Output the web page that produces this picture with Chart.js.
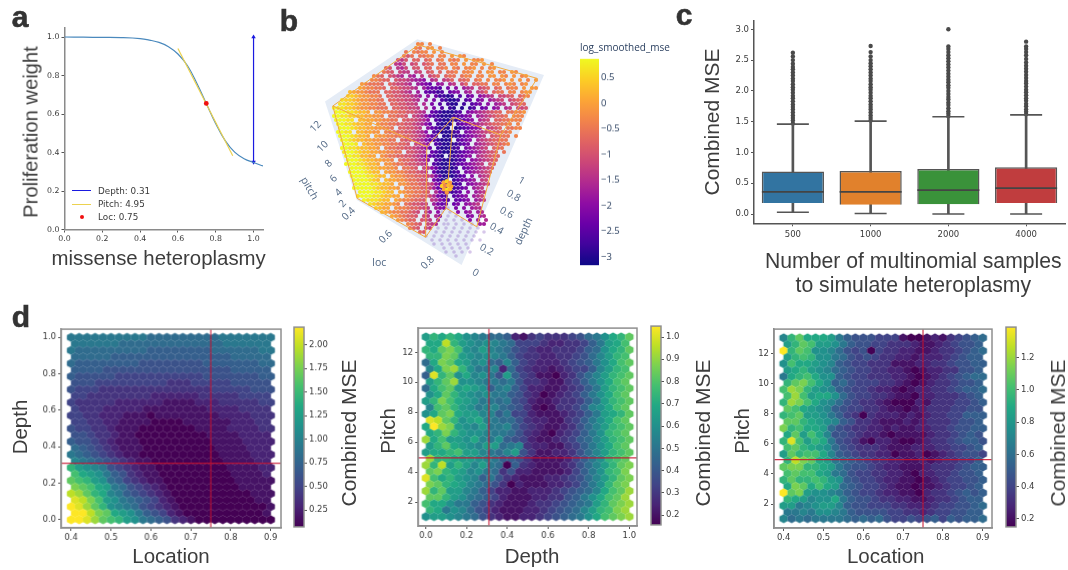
<!DOCTYPE html>
<html>
<head>
<meta charset="utf-8">
<script src="https://cdn.jsdelivr.net/npm/chart.js@4"></script>
<style>
  html, body { margin: 0; background: #fff; }
  #page { position: relative; width: 1068px; height: 570px; overflow: hidden; filter: blur(0.35px); }
  #page canvas { position: absolute; }
  .lbl { position: absolute; white-space: nowrap; transform-origin: center; }
</style>
</head>
<body>
<div id="page"></div>
<script>
// panel a
const heteroplasmy = [0, 0.1, 0.2, 0.3, 0.4, 0.45, 0.5, 0.55, 0.6, 0.65, 0.7, 0.75, 0.8, 0.85, 0.9, 0.95, 1, 1.05];
const prolifWeight = [1, 0.999, 0.998, 0.997, 0.992, 0.984, 0.972, 0.95, 0.912, 0.852, 0.76, 0.655, 0.55, 0.462, 0.402, 0.368, 0.348, 0.33];
const tangentX = [0.6, 0.89];
const tangentY = [0.94, 0.383];
const arrowX = [1, 1];
const arrowY = [0.35, 1];
const locX = [0.75];
const locY = [0.655];

// panel b, projected cloud: one string per row of the picture, one char per colour level, blank = no point, p = faded point
const cloudRows = [
"                       ee e",
"                      ed ef e",
"                    d edee f e",
"                   dbd ddee ee f fe",
"                  a9b cc cd de ede f eef",
"                 98a ab bcd dd ee f ee f e",
"               cb 98a bb cc dde ed eef e ef",
"              dcb a99 9a bc c dde eef e ff ee fe",
"            edc ba98 87 9 abc cdd dee ee ff fe f ef",
"           eedcc baa98776 89 9ac ccd de e eef f f e f",
"         fedddc cbaa98 7654 67 89 ac ccdd ee efe ef",
"        gfeeddc ccbaa98 75443 5 6 789 abc cd dee f ff",
"      hgffeddd ccbba98 7 43323 456 78 9ac cdd ee eff",
"     iihgffeed ccbbaa987 6 42212 3 45 6789 aabc cde",
"    jiihgffeedd ccbbaa98 7 5 32112 34 56 789a abcc",
"   jjiihgffeedd ccbbaa9 8 5 3 211 2 345 6 789 abcc",
"  kjjiihgffeeddd ccbbaa9 8 5 3 21 1 23 45 67 89 aab",
"  kkkjjihhg ffeeddccbba98 43211123 56789abcc ddeef",
"  kkjjiihhggffe ddccb a98643211123456 789abccd eee",
"  kkkjj hhggffeedd cbba986 3211123456 89a ccddeee",
"   kkjjihhgg feeddccbba9864 2111 3456789abccdde e",
"   kkkjihhggffeed ccbba9 643211 1234567 9abc ddee",
"   kkjj hhggff eddccbba986 3211123 56789abccdde",
"   kkkjihhg gffeeddccba98643 11123456789 bccdd e",
"    kkjihhggffeedd cbba986432111 3456 89abccdd",
"    kkkj hggffeeddccb a986 321112345 789abccde",
"    kkjjihhggf eddccbba9864 211123 56789a ccd",
"    jkkjihhggffeedd bba98 43211123456789abc d",
"     kkjjhhgg feddccbba9864321 123456 89abcc",
"     kkkjihhggffe dccba986 32111234 6789abc",
"     kkkjjihhg ffeddcbba98 3211123456789 bc",
"      kkkjihhggffe ddcb a96421112 456789ab",
"      kkkkjihh gffeedccba9 4211123 56789ab",
"      kkkkjjihh gffeddccba853111234 6 89a",
"       kkkkjih hggffeddcba 5311 234567 9a",
"       kkkkjjihhg ffeddcbb96421123 56789a",
"       kkkkkjihhggf eeddcba7422 2345 789",
"        kkkkjjihh gfeeddcb 8532234 6 789",
"        jkkkjjihhgg feddcba8533 3456 78a",
"         kjjjihh gfeedccb 98643 4456 789",
"           jihhggfe dcbba9 7544 45 6789",
"            ihgg feedccba9 765p 5 6 788",
"              hgfeeddcba 97 6p p 6 67 78",
"                gfedccb a9 86 p p  56 78",
"                  fedcc ba9 7 p p p 6 7 8",
"                    edcb a98 pp p p p 77",
"                     dcb a9 p p p p p p",
"                       cb  p p p p p p p",
"                         p p p p p p p",
"                          p p p p p p p",
"                           p p p p p",
"                             p p p p",
"                              p p p p",
"                                p"
];
const blobX = [29.4, 30.2, 31, 29, 29.8, 30.6, 31.3, 29.5, 30.3, 31, 30.2];
const blobY = [34.6, 34.3, 34.7, 35.5, 35.4, 35.3, 35.6, 36.3, 36.4, 36.3, 37.1];
const blobLevels = [16, 18, 15, 18, 14, 17, 16, 16, 19, 17, 15];
const wallX = [-0.25, 22.8, 54.5, 33.9, 7.7, -0.25];
const wallY = [14.4, -1.2, 7.75, 55.25, 39, 14.4];
const wireX = [1.7, 23.1, 52.8, 43.7, 31.8, 25.2, 1.7, 7.8, 24.9, 25.2, null, 31.8, 30, 37.7, 43.7, null, 24.9, 30];
const wireY = [15.5, 0.25, 8.6, 22.75, 18.3, 25.7, 15.5, 38.6, 48.3, 25.7, null, 18.3, 41, 45.7, 22.75, null, 48.3, 41];

// panel c
const sampleCounts = ['500', '1000', '2000', '4000'];
const boxQ1 = [0.18, 0.15, 0.16, 0.18];
const boxMedian = [0.36, 0.36, 0.39, 0.42];
const boxQ3 = [0.69, 0.7, 0.73, 0.76];
const whiskerLow = [0.03, 0.01, 0, 0];
const whiskerHigh = [1.46, 1.51, 1.58, 1.61];
const boxColors = ['#3274a1', '#e1812c', '#3a923a', '#c03d3e'];
const fliers500 = [1.47, 1.52, 1.56, 1.6, 1.65, 1.7, 1.74, 1.78, 1.83, 1.88, 1.92, 1.97, 2.02, 2.06, 2.11, 2.16, 2.2, 2.25, 2.3, 2.35, 2.39, 2.44, 2.5, 2.56, 2.62];
const fliers1000 = [1.52, 1.56, 1.6, 1.65, 1.7, 1.74, 1.78, 1.83, 1.88, 1.92, 1.97, 2.02, 2.06, 2.11, 2.16, 2.2, 2.25, 2.3, 2.35, 2.4, 2.45, 2.5, 2.56, 2.63, 2.73];
const fliers2000 = [1.59, 1.63, 1.67, 1.72, 1.77, 1.81, 1.86, 1.9, 1.95, 2, 2.05, 2.09, 2.14, 2.18, 2.23, 2.28, 2.33, 2.38, 2.43, 2.48, 2.53, 2.58, 2.63, 2.68, 2.72, 3];
const fliers4000 = [1.62, 1.66, 1.7, 1.75, 1.79, 1.84, 1.88, 1.93, 1.98, 2.02, 2.07, 2.12, 2.16, 2.21, 2.26, 2.31, 2.36, 2.41, 2.46, 2.52, 2.58, 2.63, 2.68, 2.72, 2.8];

// panel d, hexbins: rows top to bottom, odd rows are the offset lattice; one char per colour level (0-9 a-k)
const bestLoc = 0.75;
const bestDepth = 0.31;
const bestPitch = 4.95;
const locDepthRows = [
"88888888887777777778888888","8888887777777777777888888","87777777776666666677777788","7777766666666666666677777",
"76666666655555555666666677","6666555555555555555566666","65555544444444444555555566","5554444444443334444455555",
"54443333333333333344444555","4433333333222222333334444","43333322222211112223333344","4333222221111111122223333",
"44332221110111111112222333","4433221111000011111122233","54433211100000001111222233","5543321100000000011112222",
"65543211100000000011112222","7654321110000000001111222","87654321100000000001111222","9876543211000000000111122",
"dba98543211000000000111122","ecba865321100000000011112","fedba764321100000000011111","gfecb875432100000000011111",
"ihfdc986543210000000000111","jigeba8765421000000000011","kjhfda987543210000000000011","kkigfcba86542100000000001",
"kkjhfedba87653210000000000"
];
const depthPitchRows = [
"bdcdca9877621343334578acdf","ccidba9a98744432233468bce","dcfgea9b98754322333467acdf","ddgfba9a98643322334579bde",
"7cgfcb9a76964322234568acef","9cghda8892743221234469bde","6jdfac9a85b64311023579bdef","bdfhaa988785332113468acef",
"7cefbcba68964221123468bdef","acfdba9a8865320123468acef","bdgecba887854211233468bdef","9efdba899765310133469acef",
"acfgcbb996844211123468bcdf","jifdabc98775322113468acef","ckhgba9b88964321123579bdef","cdgdbaa988753210234 68adef",
"hcebbac98a654211234679bdef","bdfcba9bb789322113468acef","bccdebb9879b5311223579bdef","hddcbba98665311112468adef",
"hdibdb9b87063211123579bdfg","fgdcb9a87352211112468adeg","jecdba96853211122345 79bdfg","gfdcb9875302111223468adfg",
"hdfbb98642211222345679cefh","ffdba876421112233568acefh","ecca88653211123345678bdfgh","dc8a975421112234567 9bdegh",
"abba98753211223456 78acefgh"
].map(r => r.replace(' ', ''));
const locPitchRows = [
"9dfcccb8655544410012134567","bdfebba865544333211234556","kdfeaa97545043322112334567","bdedaa8754543322122234566",
"aeccba96544333111223345566","bcdba97654433221012233556","8cdecaa65443332210123 4567","dfgeca6754443321012334556",
"ehgdba96544322101223345667","ehebcca754433211022333456","dhgeca975433210002133344565","fecba96544332110123334455",
"defbba86430322212123344666","ffdcba9653321112123334556","gdeccb75433221211223345566","cfbec9554322101111233 4565",
"djebdc85431022100123345665","efdcba7543332111222334456","bfdeec96543322011201234554","digfcb8765433221121233446",
"fggddcb8655432211123334566","efeecb8754433221022334556","dfddedba654432211012344556","cgfcecb765443211011234456",
"kfgbaa98654432211023345656","dcb9aac865543322112334566","bb89abb9655444332223445567","8898aa9865555443323445566",
"97878888767675445456465667"
].map(r => r.replace(' ', ''));

// colour tables
const viridis = ['#440154', '#482475', '#414487', '#355f8d', '#2a788e', '#21918c', '#22a884', '#44bf70', '#7ad151', '#bddf26', '#fde725'];
const plasma = ['#0d0887', '#41049d', '#6a00a8', '#8f0da4', '#b12a90', '#cc4778', '#e16462', '#f2844b', '#fca636', '#fcce25', '#f0f921'];

const tickFont = '"DejaVu Sans", sans-serif';
const tickColor = '#3a3a3a';
const page = document.getElementById('page');

function hexToRgb(h) {
  return [1, 3, 5].map(i => parseInt(h.slice(i, i + 2), 16));
}

function colorAt(table, t) {
  t = Math.min(1, Math.max(0, t));
  const p = t * (table.length - 1);
  const i = Math.min(table.length - 2, Math.floor(p));
  const a = hexToRgb(table[i]), b = hexToRgb(table[i + 1]);
  const c = a.map((v, k) => Math.round(v + (b[k] - v) * (p - i)));
  return 'rgb(' + c.join(',') + ')';
}

function levelOf(ch) {
  return parseInt(ch, 36);
}

function addCanvas(left, top, w, h) {
  const c = document.createElement('canvas');
  c.width = w;
  c.height = h;
  c.style.left = left + 'px';
  c.style.top = top + 'px';
  c.style.width = w + 'px';
  c.style.height = h + 'px';
  page.appendChild(c);
  return c;
}

function addLabel(text, cx, cy, size, opts) {
  opts = opts || {};
  const d = document.createElement('div');
  d.className = 'lbl';
  d.textContent = text;
  d.style.left = cx + 'px';
  d.style.top = cy + 'px';
  d.style.fontSize = size + 'px';
  d.style.fontFamily = opts.font || '"Liberation Sans", sans-serif';
  d.style.color = opts.color || '#3d3d3d';
  if (opts.bold) {
    d.style.fontWeight = 'bold';
    d.style.webkitTextStroke = '0.6px #333';
  }
  d.style.transform = (opts.left ? 'translate(0,-50%)' : 'translate(-50%,-50%)') + ' rotate(' + (opts.rot || 0) + 'deg)';
  page.appendChild(d);
}

function valueAxis(pos, min, max, step, dec, size, boxSize, extra) {
  const horizontal = pos === 'bottom';
  return Object.assign({
    type: 'linear',
    position: pos,
    min: min,
    max: max,
    grid: { drawOnChartArea: false, tickLength: 3, color: '#555' },
    border: { color: '#8a8a8a', width: 1.5 },
    ticks: {
      stepSize: step,
      includeBounds: false,
      autoSkip: false,
      maxRotation: 0,
      padding: 2,
      color: tickColor,
      font: { family: tickFont, size: size },
      callback: v => v.toFixed(dec)
    },
    afterFit: s => {
      if (horizontal) s.height = boxSize; else s.width = boxSize;
    }
  }, extra || {});
}

function baseOptions(padding, scales) {
  return {
    responsive: false,
    animation: false,
    events: [],
    devicePixelRatio: 1,
    layout: { padding: padding, autoPadding: false },
    plugins: { legend: { display: false }, tooltip: { enabled: false } },
    scales: scales
  };
}

const framePlugin = {
  id: 'frame',
  afterDraw(chart) {
    const a = chart.chartArea, ctx = chart.ctx;
    ctx.save();
    ctx.strokeStyle = '#8f8f8f';
    ctx.lineWidth = 1.5;
    ctx.strokeRect(a.left, a.top, a.right - a.left, a.bottom - a.top);
    ctx.restore();
  }
};

function pairs(xs, ys) {
  return xs.map((x, i) => ({ x: x, y: ys[i] }));
}

// ---- panel a
function drawPanelA() {
  const c = addCanvas(0, 10, 275, 265);
  new Chart(c, {
    type: 'scatter',
    data: {
      datasets: [
        { data: pairs(locX, locY), pointRadius: 2.4, pointBackgroundColor: '#f01010', pointBorderWidth: 0 },
        { data: pairs(tangentX, tangentY), showLine: true, borderColor: '#ecd24f', borderWidth: 1.2, pointRadius: 0 },
        { data: pairs(heteroplasmy, prolifWeight), showLine: true, borderColor: '#4a89bd', borderWidth: 1.2, pointRadius: 0, tension: 0.4 },
        {
          data: pairs(arrowX, arrowY), showLine: true, borderColor: '#1a1ae0', borderWidth: 1.2,
          pointStyle: 'triangle', pointRadius: 2.6, pointBackgroundColor: '#1a1ae0', pointBorderWidth: 0,
          pointRotation: ctx => ctx.dataIndex === 0 ? 180 : 0
        }
      ]
    },
    options: baseOptions({ top: 17.4, right: 12 }, {
      x: valueAxis('bottom', 0, 1.05, 0.2, 1, 7.8, 45.5),
      y: valueAxis('left', 0, 1.05, 0.2, 1, 7.8, 64.5)
    })
  });
  // legend sits inside the axes, like matplotlib's
  const swatch = (color, top) => {
    const s = document.createElement('div');
    s.style.cssText = 'position:absolute;left:72px;width:19px;height:1.2px;background:' + color + ';top:' + top + 'px';
    page.appendChild(s);
  };
  swatch('#1a1ae0', 190);
  swatch('#ecd24f', 203.5);
  const dot = document.createElement('div');
  dot.style.cssText = 'position:absolute;left:79.5px;top:214.7px;width:4.6px;height:4.6px;border-radius:50%;background:#f01010';
  page.appendChild(dot);
  const legendOpts = { font: tickFont, color: tickColor, left: true };
  addLabel('Depth: 0.31', 98, 190.5, 8.8, legendOpts);
  addLabel('Pitch: 4.95', 98, 203.7, 8.8, legendOpts);
  addLabel('Loc: 0.75', 98, 217, 8.8, legendOpts);
  addLabel('Proliferation weight', 31, 132, 20.2, { rot: -90 });
  addLabel('missense heteroplasmy', 158.7, 258, 20.4);
}

// ---- panel b
function drawPanelB() {
  const cloud = [], faded = [];
  cloudRows.forEach((row, r) => {
    for (let i = 0; i < row.length; i++) {
      const ch = row[i];
      if (ch === ' ') continue;
      const pt = { x: i + (r % 2) * 0.5, y: r };
      if (ch === 'p') {
        faded.push(pt);
      } else {
        pt.t = levelOf(ch) / 20;
        cloud.push(pt);
      }
    }
  });
  const blob = blobX.map((x, i) => ({ x: x, y: blobY[i], t: blobLevels[i] / 20 }));
  const c = addCanvas(318, 34, 240, 244);
  new Chart(c, {
    type: 'scatter',
    data: {
      datasets: [
        { data: blob, pointRadius: 2.2, pointBorderWidth: 0, pointBackgroundColor: ctx => colorAt(plasma, ctx.raw.t) },
        { data: pairs(wireX, wireY), showLine: true, spanGaps: false, borderColor: '#f2a93c', borderWidth: 1, pointRadius: 0 },
        { data: cloud, pointRadius: 2.1, pointBorderWidth: 0, pointBackgroundColor: ctx => colorAt(plasma, ctx.raw.t) },
        { data: faded, pointRadius: 1.8, pointBorderWidth: 0, pointBackgroundColor: 'rgba(130,80,190,0.32)' },
        { data: pairs(wallX, wallY), showLine: true, borderWidth: 0, pointRadius: 0, fill: 'shape', backgroundColor: '#e5ecf6' }
      ]
    },
    options: baseOptions(0, {
      x: { type: 'linear', min: -2, max: 58, display: false },
      y: { type: 'linear', min: -2.5, max: 58.5, reverse: true, display: false }
    })
  });
  const cube = { font: '"Open Sans", sans-serif', color: '#506784' };
  const rotated = (rot) => Object.assign({ rot: rot }, cube);
  [['12', 315, 126], ['10', 322.3, 145.7], ['8', 328.3, 163.3], ['6', 333.3, 178.3], ['4', 338.3, 191.7], ['2', 341.7, 203.3],
   ['0.4', 347.7, 213.3], ['0.6', 385, 236], ['0.8', 426.7, 261.7]].forEach(t => addLabel(t[0], t[1], t[2], 10, rotated(-45)));
  [['0', 475.7, 271.7], ['0.2', 486.7, 249.3], ['0.4', 496.7, 228.3], ['0.6', 506.7, 211.7], ['0.8', 514.3, 195], ['1', 521.7, 180]]
    .forEach(t => addLabel(t[0], t[1], t[2], 10, rotated(30)));
  addLabel('pitch', 310, 187.7, 10.5, rotated(60));
  addLabel('loc', 379.3, 262.3, 10.5, cube);
  addLabel('depth', 523.3, 230.7, 10.5, rotated(-65));
  addLabel('log_smoothed_mse', 625, 47, 10, { font: '"Open Sans", sans-serif', color: '#2a3f5f' });
}

// ---- colourbars, shared by b and d
function drawColorbar(left, top, width, height, table, min, max, step, opts) {
  const c = addCanvas(left - 1, top - 6, width + 50, height + 12);
  const axis = valueAxis('right', min, max, step, opts.dec, opts.size, 49);
  if (opts.format) axis.ticks.callback = opts.format;
  axis.border = { display: false };
  axis.grid.tickLength = opts.tick;
  axis.ticks.color = opts.color || tickColor;
  axis.ticks.font.family = opts.font || tickFont;
  new Chart(c, {
    type: 'bar',
    data: {
      labels: [''],
      datasets: [{
        data: [[min, max]],
        barPercentage: 1,
        categoryPercentage: 1,
        backgroundColor: ctx => {
          const area = ctx.chart.chartArea;
          if (!area) return table[0];
          const g = ctx.chart.ctx.createLinearGradient(0, area.bottom, 0, area.top);
          table.forEach((col, i) => g.addColorStop(i / (table.length - 1), col));
          return g;
        }
      }]
    },
    options: baseOptions({ left: 1, top: 6, bottom: 6 }, {
      x: { display: false },
      y: axis
    }),
    plugins: opts.frame ? [framePlugin] : []
  });
}

// ---- panel c
function drawPanelC() {
  const c = addCanvas(690, 10, 378, 290);
  const flierSets = [fliers500, fliers1000, fliers2000, fliers4000];
  const flierPoints = [];
  flierSets.forEach((list, i) => list.forEach(v => flierPoints.push({ x: sampleCounts[i], y: v })));
  const lineColor = '#555';
  const yAxis = valueAxis('left', -0.15, 3.14, 0.5, 1, 8.5, 64);
  yAxis.border.color = '#555';
  const xAxis = {
    type: 'category',
    position: 'bottom',
    grid: { drawOnChartArea: false, tickLength: 3, color: '#555', offset: false },
    border: { color: '#555', width: 1.5 },
    ticks: { padding: 3, color: tickColor, font: { family: tickFont, size: 8.5 } },
    afterFit: s => { s.height = 76.7; }
  };
  new Chart(c, {
    type: 'bar',
    data: {
      labels: sampleCounts,
      datasets: [
        { type: 'scatter', data: pairs(sampleCounts, boxMedian), pointStyle: 'line', pointRadius: 31, pointBorderColor: '#444', pointBorderWidth: 1.8 },
        { type: 'scatter', data: pairs(sampleCounts, whiskerHigh), pointStyle: 'line', pointRadius: 16, pointBorderColor: lineColor, pointBorderWidth: 1.6 },
        { type: 'scatter', data: pairs(sampleCounts, whiskerLow), pointStyle: 'line', pointRadius: 16, pointBorderColor: lineColor, pointBorderWidth: 1.6 },
        {
          data: boxQ1.map((v, i) => [v, boxQ3[i]]), grouped: false,
          barPercentage: 0.8, categoryPercentage: 1,
          backgroundColor: boxColors, borderColor: lineColor, borderWidth: 1.5
        },
        {
          data: whiskerLow.map((v, i) => [v, whiskerHigh[i]]), grouped: false,
          barThickness: 2, backgroundColor: lineColor
        },
        { type: 'scatter', data: flierPoints, pointRadius: 2.2, pointBorderWidth: 0, pointBackgroundColor: '#4a4a4a' }
      ]
    },
    options: baseOptions({ top: 10.7, right: 3 }, { x: xAxis, y: yAxis })
  });
  addLabel('Combined MSE', 712, 121.7, 21, { rot: -90 });
  addLabel('Number of multinomial samples', 913.3, 260.7, 21.2);
  addLabel('to simulate heteroplasmy', 913.3, 285, 21.2);
}

// ---- panel d
const hexSprites = {};
function hexSprite(color) {
  if (hexSprites[color]) return hexSprites[color];
  const s = document.createElement('canvas');
  s.width = 14;
  s.height = 14;
  const g = s.getContext('2d');
  const w = 8.5, h = 9.1;
  g.fillStyle = color;
  g.beginPath();
  g.moveTo(7, 7 - h / 2);
  g.lineTo(7 + w / 2, 7 - h / 4);
  g.lineTo(7 + w / 2, 7 + h / 4);
  g.lineTo(7, 7 + h / 2);
  g.lineTo(7 - w / 2, 7 + h / 4);
  g.lineTo(7 - w / 2, 7 - h / 4);
  g.closePath();
  g.fill();
  hexSprites[color] = s;
  return s;
}

function hexPoints(rows, xMin, xMax, yMin, yMax) {
  const dx = (xMax - xMin) / 25, dy = (yMax - yMin) / 28;
  const out = [];
  rows.forEach((row, r) => {
    const n = r % 2 ? 25 : 26;
    const full = row.padEnd(n, row[row.length - 1]).slice(0, n);
    for (let i = 0; i < n; i++) {
      out.push({
        x: xMin + dx * (i + (r % 2) * 0.5),
        y: yMax - dy * r,
        t: levelOf(full[i]) / 20
      });
    }
  });
  return out;
}

function drawHexPanel(frame, rows, xr, yr, xAxisRange, yAxisRange, cross, xDec, yDec, xStep, yStep) {
  const leftPad = 42, bottomPad = 30, topPad = 4, rightPad = 5;
  const w = frame.right - frame.left, h = frame.bottom - frame.top;
  const c = addCanvas(frame.left - leftPad, frame.top - topPad, w + leftPad + rightPad, h + topPad + bottomPad);
  const red = 'rgba(200,16,46,0.85)';
  new Chart(c, {
    type: 'scatter',
    data: {
      datasets: [
        { data: pairs([cross.x, cross.x], yAxisRange), showLine: true, borderColor: red, borderWidth: 1.2, pointRadius: 0 },
        { data: pairs(xAxisRange, [cross.y, cross.y]), showLine: true, borderColor: red, borderWidth: 1.2, pointRadius: 0 },
        {
          data: hexPoints(rows, xr[0], xr[1], yr[0], yr[1]),
          pointRadius: 4,
          pointStyle: ctx => hexSprite(colorAt(viridis, ctx.raw.t))
        }
      ]
    },
    options: baseOptions({ top: topPad, right: rightPad }, {
      x: valueAxis('bottom', xAxisRange[0], xAxisRange[1], xStep, xDec, 8.5, bottomPad),
      y: valueAxis('left', yAxisRange[0], yAxisRange[1], yStep, yDec, 8.5, leftPad)
    }),
    plugins: [framePlugin]
  });
}

function drawPanelD() {
  drawHexPanel({ left: 61.3, right: 280.7, top: 326, bottom: 527.7 }, locDepthRows,
    [0.4, 0.9], [0, 1], [0.375, 0.926], [-0.045, 1.045], { x: bestLoc, y: bestDepth }, 1, 1, 0.1, 0.2);
  drawHexPanel({ left: 418.3, right: 636.7, top: 325, bottom: 526 }, depthPitchRows,
    [0, 1], [1.03, 13.03], [-0.038, 1.038], [0.4, 13.62], { x: bestDepth, y: bestPitch }, 1, 0, 0.2, 2);
  drawHexPanel({ left: 774, right: 992.3, top: 326, bottom: 528 }, locPitchRows,
    [0.4, 0.9], [1.03, 13.03], [0.3757, 0.9233], [0.41, 13.61], { x: bestLoc, y: bestPitch }, 1, 0, 0.1, 2);

  drawColorbar(294, 326, 10.3, 201.7, viridis, 0.072, 2.186, 0.25, { dec: 2, size: 8.5, tick: 3, frame: true });
  drawColorbar(650.7, 325, 10, 201, viridis, 0.156, 1.049, 0.1, { dec: 1, size: 8.5, tick: 3, frame: true });
  drawColorbar(1005.7, 326, 10, 202, viridis, 0.151, 1.388, 0.2, { dec: 1, size: 8.5, tick: 3, frame: true });

  addLabel('Depth', 20, 427, 20.5, { rot: -90 });
  addLabel('Location', 171, 556, 20.5);
  addLabel('Combined MSE', 349, 433, 21, { rot: -90 });
  addLabel('Pitch', 388, 431, 20.5, { rot: -90 });
  addLabel('Depth', 532, 556, 20.5);
  addLabel('Combined MSE', 703, 433, 21, { rot: -90 });
  addLabel('Pitch', 742, 431, 20.5, { rot: -90 });
  addLabel('Location', 885.7, 556, 20.5);
  addLabel('Combined MSE', 1058, 433, 21, { rot: -90 });
}

drawPanelA();
drawPanelB();
drawColorbar(580, 57.3, 19.3, 209.4, plasma, -3.16, 0.865, 0.5, {
  size: 9.5, tick: 0, color: '#2a3f5f', font: '"Open Sans", sans-serif',
  format: v => (v < 0 ? '\u2212' + Math.abs(v) : String(v))
});
drawPanelC();
drawPanelD();

addLabel('a', 20, 17, 30, { bold: true, color: '#333' });
addLabel('b', 289, 21, 30, { bold: true, color: '#333' });
addLabel('c', 684, 15, 30, { bold: true, color: '#333' });
addLabel('d', 21, 317, 30, { bold: true, color: '#333' });
</script>
</body>
</html>
